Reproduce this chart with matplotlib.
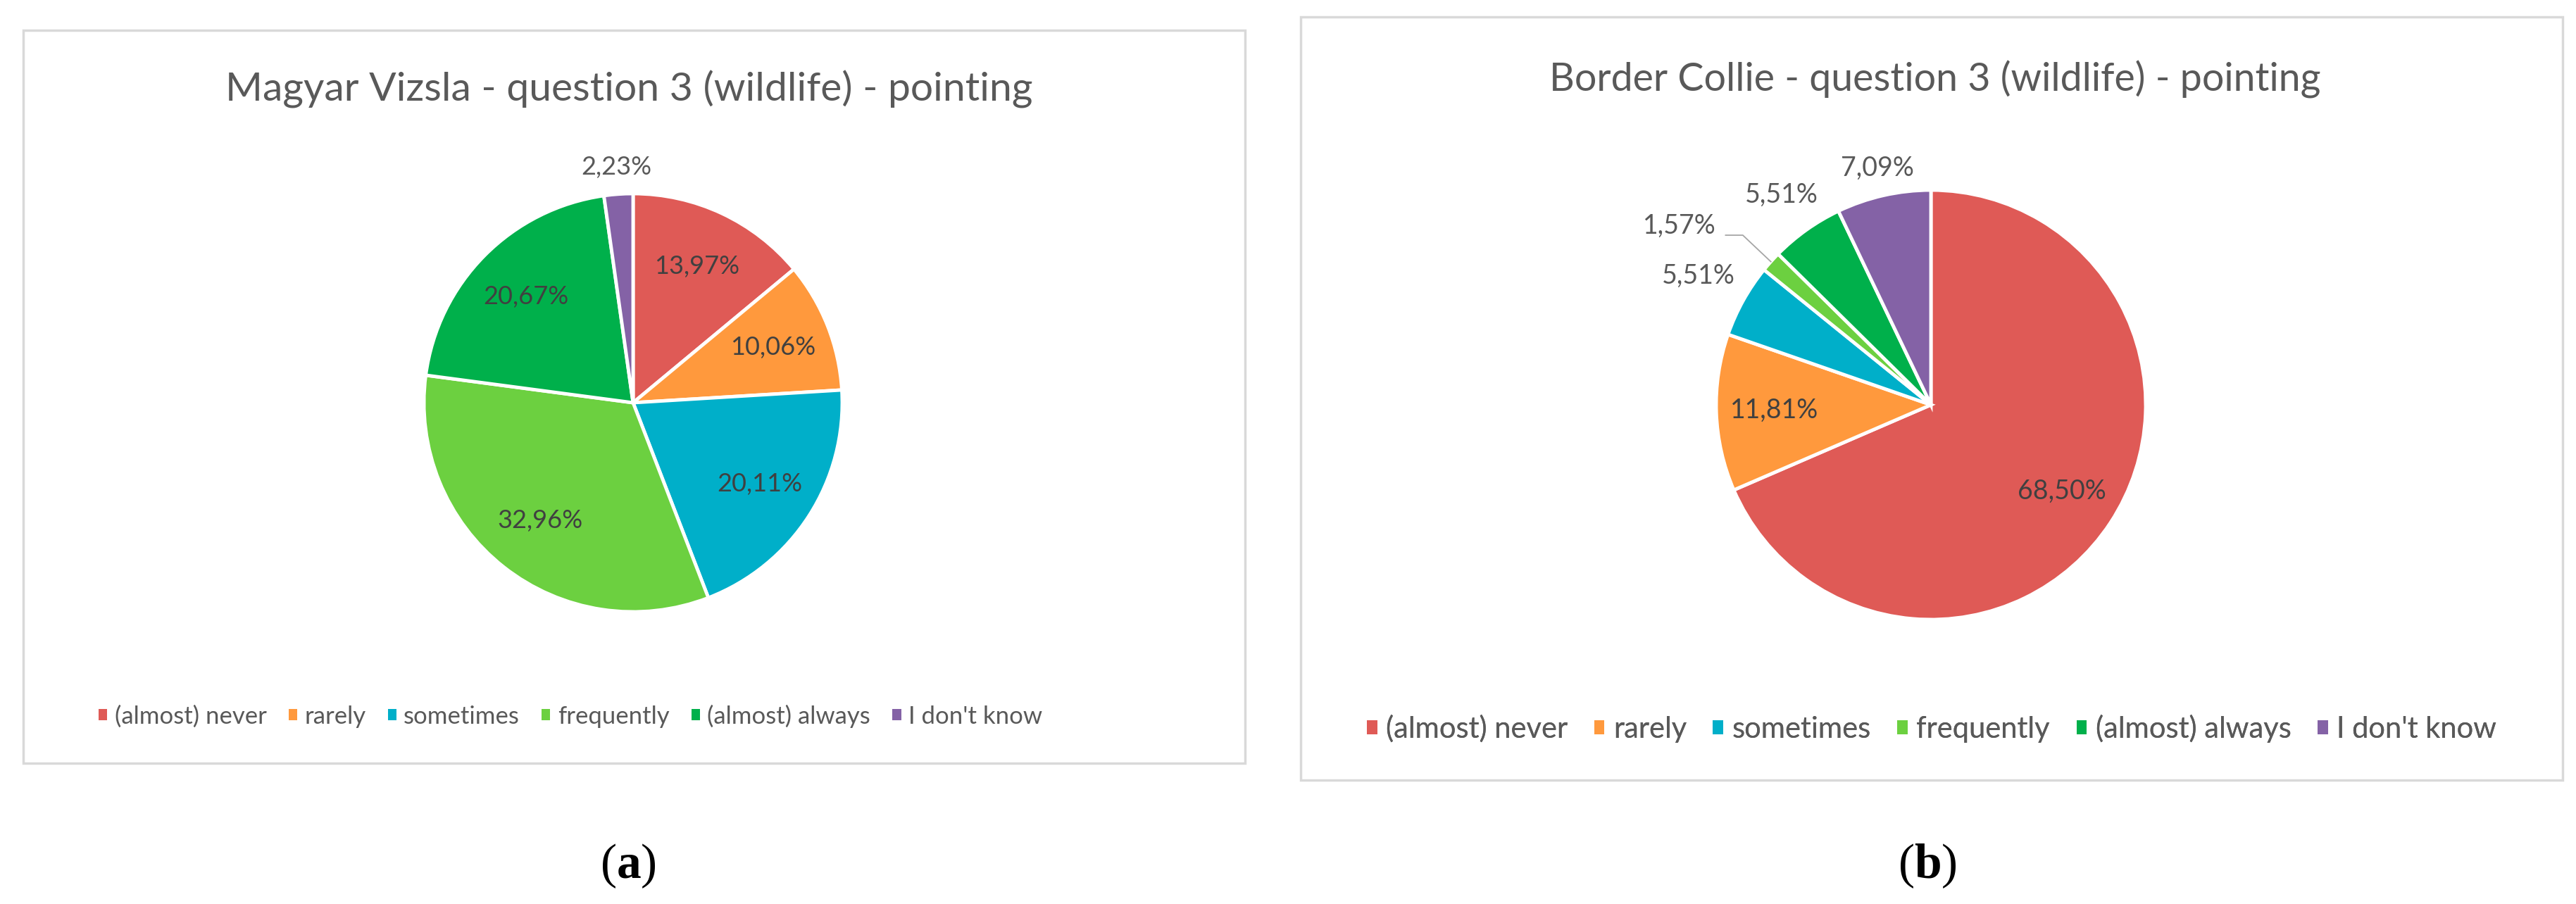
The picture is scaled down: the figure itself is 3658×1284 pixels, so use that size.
import numpy as np
import matplotlib
matplotlib.use("Agg")
from matplotlib import pyplot as plt
from matplotlib.patches import Rectangle

plt.rcParams['font.family'] = ['Lato', 'DejaVu Sans']
plt.rcParams['mathtext.fontset'] = 'custom'
plt.rcParams['mathtext.rm'] = 'Liberation Serif'
plt.rcParams['mathtext.bf'] = 'Liberation Serif:bold'

# data
categories = ['(almost) never', 'rarely', 'sometimes', 'frequently', '(almost) always', "I don't know"]
vizsla = [13.97, 10.06, 20.11, 32.96, 20.67, 2.23]
collie = [68.50, 11.81, 5.51, 1.57, 5.51, 7.09]
titles = ['Magyar Vizsla - question 3 (wildlife) - pointing',
          'Border Collie - question 3 (wildlife) - pointing']
panel_tags = ['a', 'b']
colors = ['#DF5A56', '#FF993D', '#00AFC9', '#6CD040', '#00B04B', '#8462A6']

W, H = 3658, 1284
fig = plt.figure(figsize=(W / 100, H / 100), dpi=100)
ax = fig.add_axes([0, 0, 1, 1])

def fy(y):
    return H - y

def pct(v):
    return ('%.2f' % v).replace('.', ',') + '%'

# panel layout (pixels)
boxes = [(33, 43, 1768, 1084), (1847, 24, 3639, 1108)]
pie_c = [(899, 572), (2742, 575)]
pie_r = [297, 305]
title_y = [143, 130]
title_x = [893, 2748]
title_fs = [41, 40]
legend_y = [1017, 1035]
legend_fs = [25, 30]
tag_x = [892, 2737]

for i, vals in enumerate([vizsla, collie]):
    x0, y0, x1, y1 = boxes[i]
    ax.add_patch(Rectangle((x0, fy(y1)), x1 - x0, y1 - y0, fill=False,
                           edgecolor='#D9D9D9', lw=2.5, zorder=0))
    ax.text(title_x[i], fy(title_y[i]), titles[i], ha='center', va='baseline',
            fontsize=title_fs[i], color='#595959')

    cx, cy = pie_c[i][0], fy(pie_c[i][1])
    r = pie_r[i]
    wedges, _ = ax.pie(vals, colors=colors, startangle=90, counterclock=False,
                       center=(cx, cy), radius=r,
                       wedgeprops=dict(edgecolor='white', linewidth=3.5))

    if i == 0:
        dist = [0.72, 0.72, 0.72, 0.72, 0.72, 1.13]
        fs = 26
    else:
        dist = [0.73, 0.73, 1.24, None, 1.2, 1.13]
        fs = 27
    for j, w in enumerate(wedges):
        mid = np.deg2rad((w.theta1 + w.theta2) / 2)
        inside = dist[j] is not None and dist[j] < 1
        col = '#404040' if inside else '#595959'
        if dist[j] is None:
            # small slice with leader line
            lx, ly = cx - 1.17 * r, cy + 0.833 * r
            ax.plot([cx - 0.956 * r, cx - 0.876 * r, cx + r * np.cos(mid)],
                    [cy + 0.79 * r, cy + 0.79 * r, cy + r * np.sin(mid)],
                    color='#A6A6A6', lw=1.3, zorder=3)
        else:
            lx = cx + dist[j] * r * np.cos(mid)
            ly = cy + dist[j] * r * np.sin(mid)
        ax.text(lx, ly, pct(vals[j]), ha='center', va='center', fontsize=fs,
                color=col, zorder=4)

    if i == 0:
        loc, ax_x = 'center left', 140 / W
    else:
        loc, ax_x = 'center', (x0 + x1) / 2 / W
    leg = ax.legend(wedges, categories, loc=loc, ncol=6,
                    bbox_to_anchor=(ax_x, fy(legend_y[i]) / H),
                    bbox_transform=fig.transFigure, frameon=False,
                    fontsize=legend_fs[i], borderaxespad=0, borderpad=0,
                    handlelength=0.35, handleheight=0.35, handletextpad=0.3,
                    columnspacing=0.9, labelcolor='#595959')
    for h in leg.legend_handles:
        h.set_linewidth(0)
    ax.add_artist(leg)

    ax.text(tag_x[i], fy(1230), r'($\mathbf{%s}$)' % panel_tags[i], ha='center',
            va='center', fontsize=50, family='Liberation Serif', color='black')

ax.set_xlim(0, W)
ax.set_ylim(0, H)
ax.set_aspect('auto')
ax.axis('off')

fig.savefig('out.png', dpi=100, facecolor='white')
